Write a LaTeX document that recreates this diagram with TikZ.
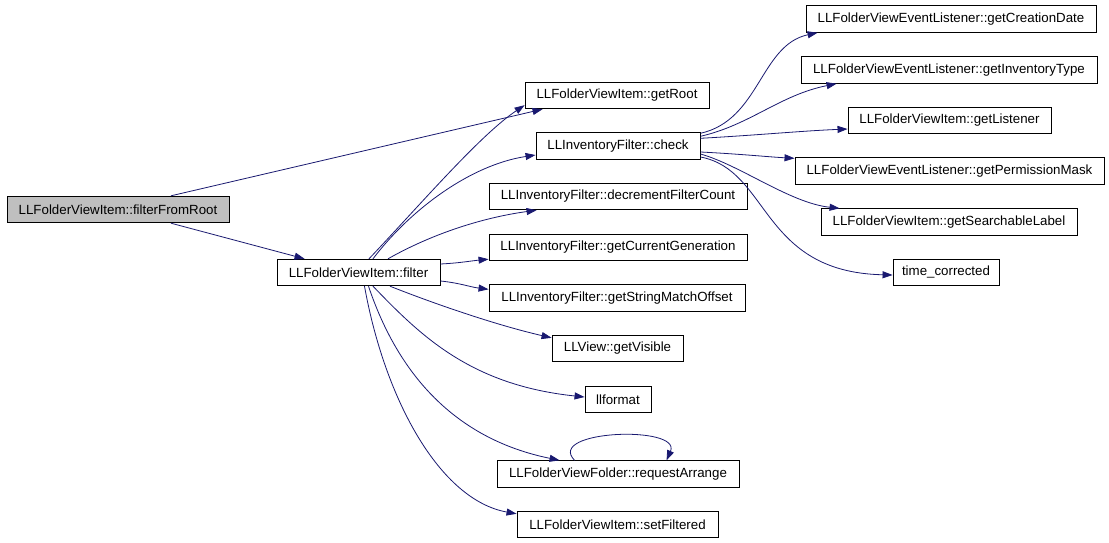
\documentclass[tikz,border=0pt]{standalone}
\usepackage{fontspec}
\setmainfont{Liberation Sans}
\usetikzlibrary{arrows.meta,calc}
\definecolor{edgeblue}{HTML}{191970}
\definecolor{rootgray}{HTML}{BFBFBF}
\begin{document}
\begin{tikzpicture}[x=1pt,y=-1pt,
  fn/.style={draw=black,fill=white,line width=0.9pt,inner sep=0pt,minimum height=26.5pt,font=\fontsize{13.3}{16}\selectfont,anchor=center},
  call/.style={draw=edgeblue,line width=0.8pt,-{Triangle[length=10pt,width=7pt]},edgeblue}]
\useasboundingbox[fill=white] (0,0) rectangle (1109,543);
% nodes
\node[fn,fill=rootgray,minimum width=222pt] (root) at (118,209.5) {LLFolderViewItem::filterFromRoot};
\node[fn,minimum width=163pt] (filter) at (358.5,272.5) {LLFolderViewItem::filter};
\node[fn,minimum width=184pt] (getroot) at (617,95.5) {LLFolderViewItem::getRoot};
\node[fn,minimum width=164pt] (check) at (618,146) {LLInventoryFilter::check};
\node[fn,minimum width=258pt] (decr) at (618,196.5) {LLInventoryFilter::decrementFilterCount};
\node[fn,minimum width=258pt] (gcg) at (618,247.5) {LLInventoryFilter::getCurrentGeneration};
\node[fn,minimum width=256pt] (gsmo) at (617,298) {LLInventoryFilter::getStringMatchOffset};
\node[fn,minimum width=131pt] (getvis) at (617.5,348.5) {LLView::getVisible};
\node[fn,minimum width=66pt] (llformat) at (618,399.5) {llformat};
\node[fn,minimum width=242pt] (reqarr) at (618,474) {LLFolderViewFolder::requestArrange};
\node[fn,minimum width=201pt] (setf) at (617.5,524.5) {LLFolderViewItem::setFiltered};
\node[fn,minimum width=290pt] (gcd) at (951,19) {LLFolderViewEventListener::getCreationDate};
\node[fn,minimum width=296pt] (git) at (949,70) {LLFolderViewEventListener::getInventoryType};
\node[fn,minimum width=203pt] (gl) at (949.5,120.5) {LLFolderViewItem::getListener};
\node[fn,minimum width=309pt] (gpm) at (949.5,171) {LLFolderViewEventListener::getPermissionMask};
\node[fn,minimum width=256pt] (gsl) at (949,222) {LLFolderViewItem::getSearchableLabel};
\node[fn,minimum width=106pt] (tc) at (946,272.5) {time\_corrected};
% edges from filterFromRoot
\draw[call] ($(root.north)+(53,0)$) -- ($(getroot.south west)+(18,0)$);
\draw[call] ($(root.south)+(53,0)$) -- ($(filter.north west)+(28,0)$);
% edges from filter
\draw[call] ($(filter.north)+(10.5,0)$) .. controls (420,205) and (480,135) .. ($(getroot.south west)+(0,-4)$);
\draw[call] ($(filter.north)+(14.5,0)$) .. controls (410,210) and (470,165) .. ($(check.west)+(0,9)$);
\draw[call] ($(filter.north)+(29.5,0)$) .. controls (430,235) and (480,218) .. ($(decr.south west)+(48,0)$);
\draw[call] ($(filter.east)+(0,-8.5)$) .. controls (460,263) and (470,261) .. ($(gcg.south west)+(0,-2)$);
\draw[call] ($(filter.east)+(0,8.5)$) .. controls (460,283) and (470,287) .. ($(gsmo.north west)+(0,5)$);
\draw[call] ($(filter.south)+(31.5,0)$) .. controls (440,306) and (500,326) .. ($(getvis.north west)+(0,3)$);
\draw[call] ($(filter.south)+(14.5,0)$) .. controls (420,335) and (470,385) .. ($(llformat.west)+(0,-2.5)$);
\draw[call] ($(filter.south)+(10,0)$) .. controls (400,380) and (460,440) .. ($(reqarr.north west)+(63,0)$);
\draw[call] ($(filter.south)+(6,0)$) .. controls (385,400) and (440,500) .. ($(setf.north west)+(0,3)$);
% self loop
\draw[call] ($(reqarr.north west)+(78,0)$) .. controls (545,430) and (682,425) .. ($(reqarr.north west)+(170,0)$);
% edges from check
\draw[call] ($(check.north east)+(0,1)$) .. controls (760,120) and (760,45) .. ($(gcd.south west)+(12,0)$);
\draw[call] ($(check.north east)+(0,4)$) .. controls (750,125) and (780,95) .. ($(git.south west)+(36,0)$);
\draw[call] ($(check.north east)+(0,6)$) .. controls (760,135) and (800,131) .. ($(gl.west)+(0,8.5)$);
\draw[call] ($(check.east)+(0,6)$) .. controls (740,154) and (770,157) .. ($(gpm.north west)+(0,1)$);
\draw[call] ($(check.east)+(0,8)$) .. controls (740,165) and (790,203) .. ($(gsl.north west)+(19,0)$);
\draw[call] ($(check.east)+(0,11)$) .. controls (770,170) and (760,272) .. ($(tc.west)+(0,2.5)$);
\end{tikzpicture}
\end{document}
